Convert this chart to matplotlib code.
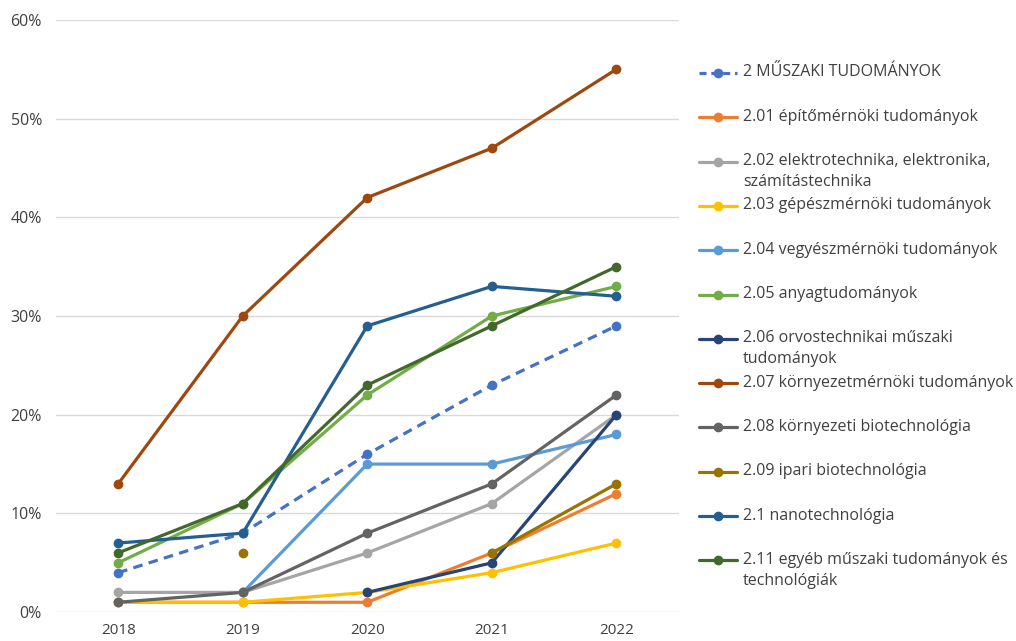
import matplotlib.pyplot as plt
import numpy as np

plt.rcParams['font.family'] = ['Open Sans', 'DejaVu Sans']

years = ["2018", "2019", "2020", "2021", "2022"]

# values in percent, nan = no data
muszaki = [4, 8, 16, 23, 29]
epito = [1, 1, 1, 6, 12]
elektro = [2, 2, 6, 11, 20]
gepesz = [1, 1, 2, 4, 7]
vegyesz = [np.nan, 2, 15, 15, 18]
anyag = [5, 11, 22, 30, 33]
orvos = [np.nan, np.nan, 2, 5, 20]
kornyezetmern = [13, 30, 42, 47, 55]
kornyezeti_bio = [1, 2, 8, 13, 22]
ipari_bio = [np.nan, 6, np.nan, 6, 13]
nano = [7, 8, 29, 33, 32]
egyeb = [6, 11, 23, 29, 35]

labels = [
    "2 MŰSZAKI TUDOMÁNYOK",
    "2.01 építőmérnöki tudományok",
    "2.02 elektrotechnika, elektronika,\nszámítástechnika",
    "2.03 gépészmérnöki tudományok",
    "2.04 vegyészmérnöki tudományok",
    "2.05 anyagtudományok",
    "2.06 orvostechnikai műszaki\ntudományok",
    "2.07 környezetmérnöki tudományok",
    "2.08 környezeti biotechnológia",
    "2.09 ipari biotechnológia",
    "2.1 nanotechnológia",
    "2.11 egyéb műszaki tudományok és\ntechnológiák",
]
series = [muszaki, epito, elektro, gepesz, vegyesz, anyag, orvos,
          kornyezetmern, kornyezeti_bio, ipari_bio, nano, egyeb]
colors = ["#4472C4", "#ED7D31", "#A5A5A5", "#FFC000", "#5B9BD5", "#70AD47",
          "#264478", "#9E480E", "#636363", "#997300", "#255E91", "#43682B"]

text_color = "#404040"
fig = plt.figure(figsize=(10.16, 6.41), dpi=100)
ax = fig.add_axes([0.055, 0.045, 0.613, 0.924])

x = np.arange(len(years))
for i, (vals, c) in enumerate(zip(series, colors)):
    ls = (0, (3, 2)) if i == 0 else "-"
    ax.plot(x, vals, color=c, lw=2.3, ls=ls, marker="o", ms=6,
            solid_capstyle="round")

ax.set_xlim(-0.5, len(years) - 0.5)
ax.set_ylim(0, 60)
ax.set_yticks(np.arange(0, 61, 10))
ax.set_yticklabels(["{}%".format(v) for v in range(0, 61, 10)])
ax.set_xticks(x)
ax.set_xticklabels(years)
ax.grid(axis="y", color="#D9D9D9", lw=1)
ax.set_axisbelow(True)
for s in ax.spines.values():
    s.set_visible(False)
ax.tick_params(length=0, labelsize=11, colors=text_color, pad=8)
ax.tick_params(axis="y", pad=10, labelsize=11.5)

# legend, Excel-like: entries evenly spaced, wrapped text hangs below
lax = fig.add_axes([0.686, 0.0, 0.314, 1.0])
lax.set_xlim(0, 1016 * 0.314)
lax.set_ylim(641, 0)
lax.axis("off")
y0, dy = 73, 44.3
for i, (lab, c) in enumerate(zip(labels, colors)):
    yy = y0 + i * dy
    ls = (0, (2.2, 1.5)) if i == 0 else "-"
    lax.plot([2, 40], [yy, yy], color=c, lw=2.3, ls=ls, solid_capstyle="round")
    lax.plot([21], [yy], color=c, marker="o", ms=6)
    lax.text(46, yy - 8.5, lab, fontsize=11.5, color=text_color, va="top",
             linespacing=1.4)

plt.savefig("out.png", dpi=100)
